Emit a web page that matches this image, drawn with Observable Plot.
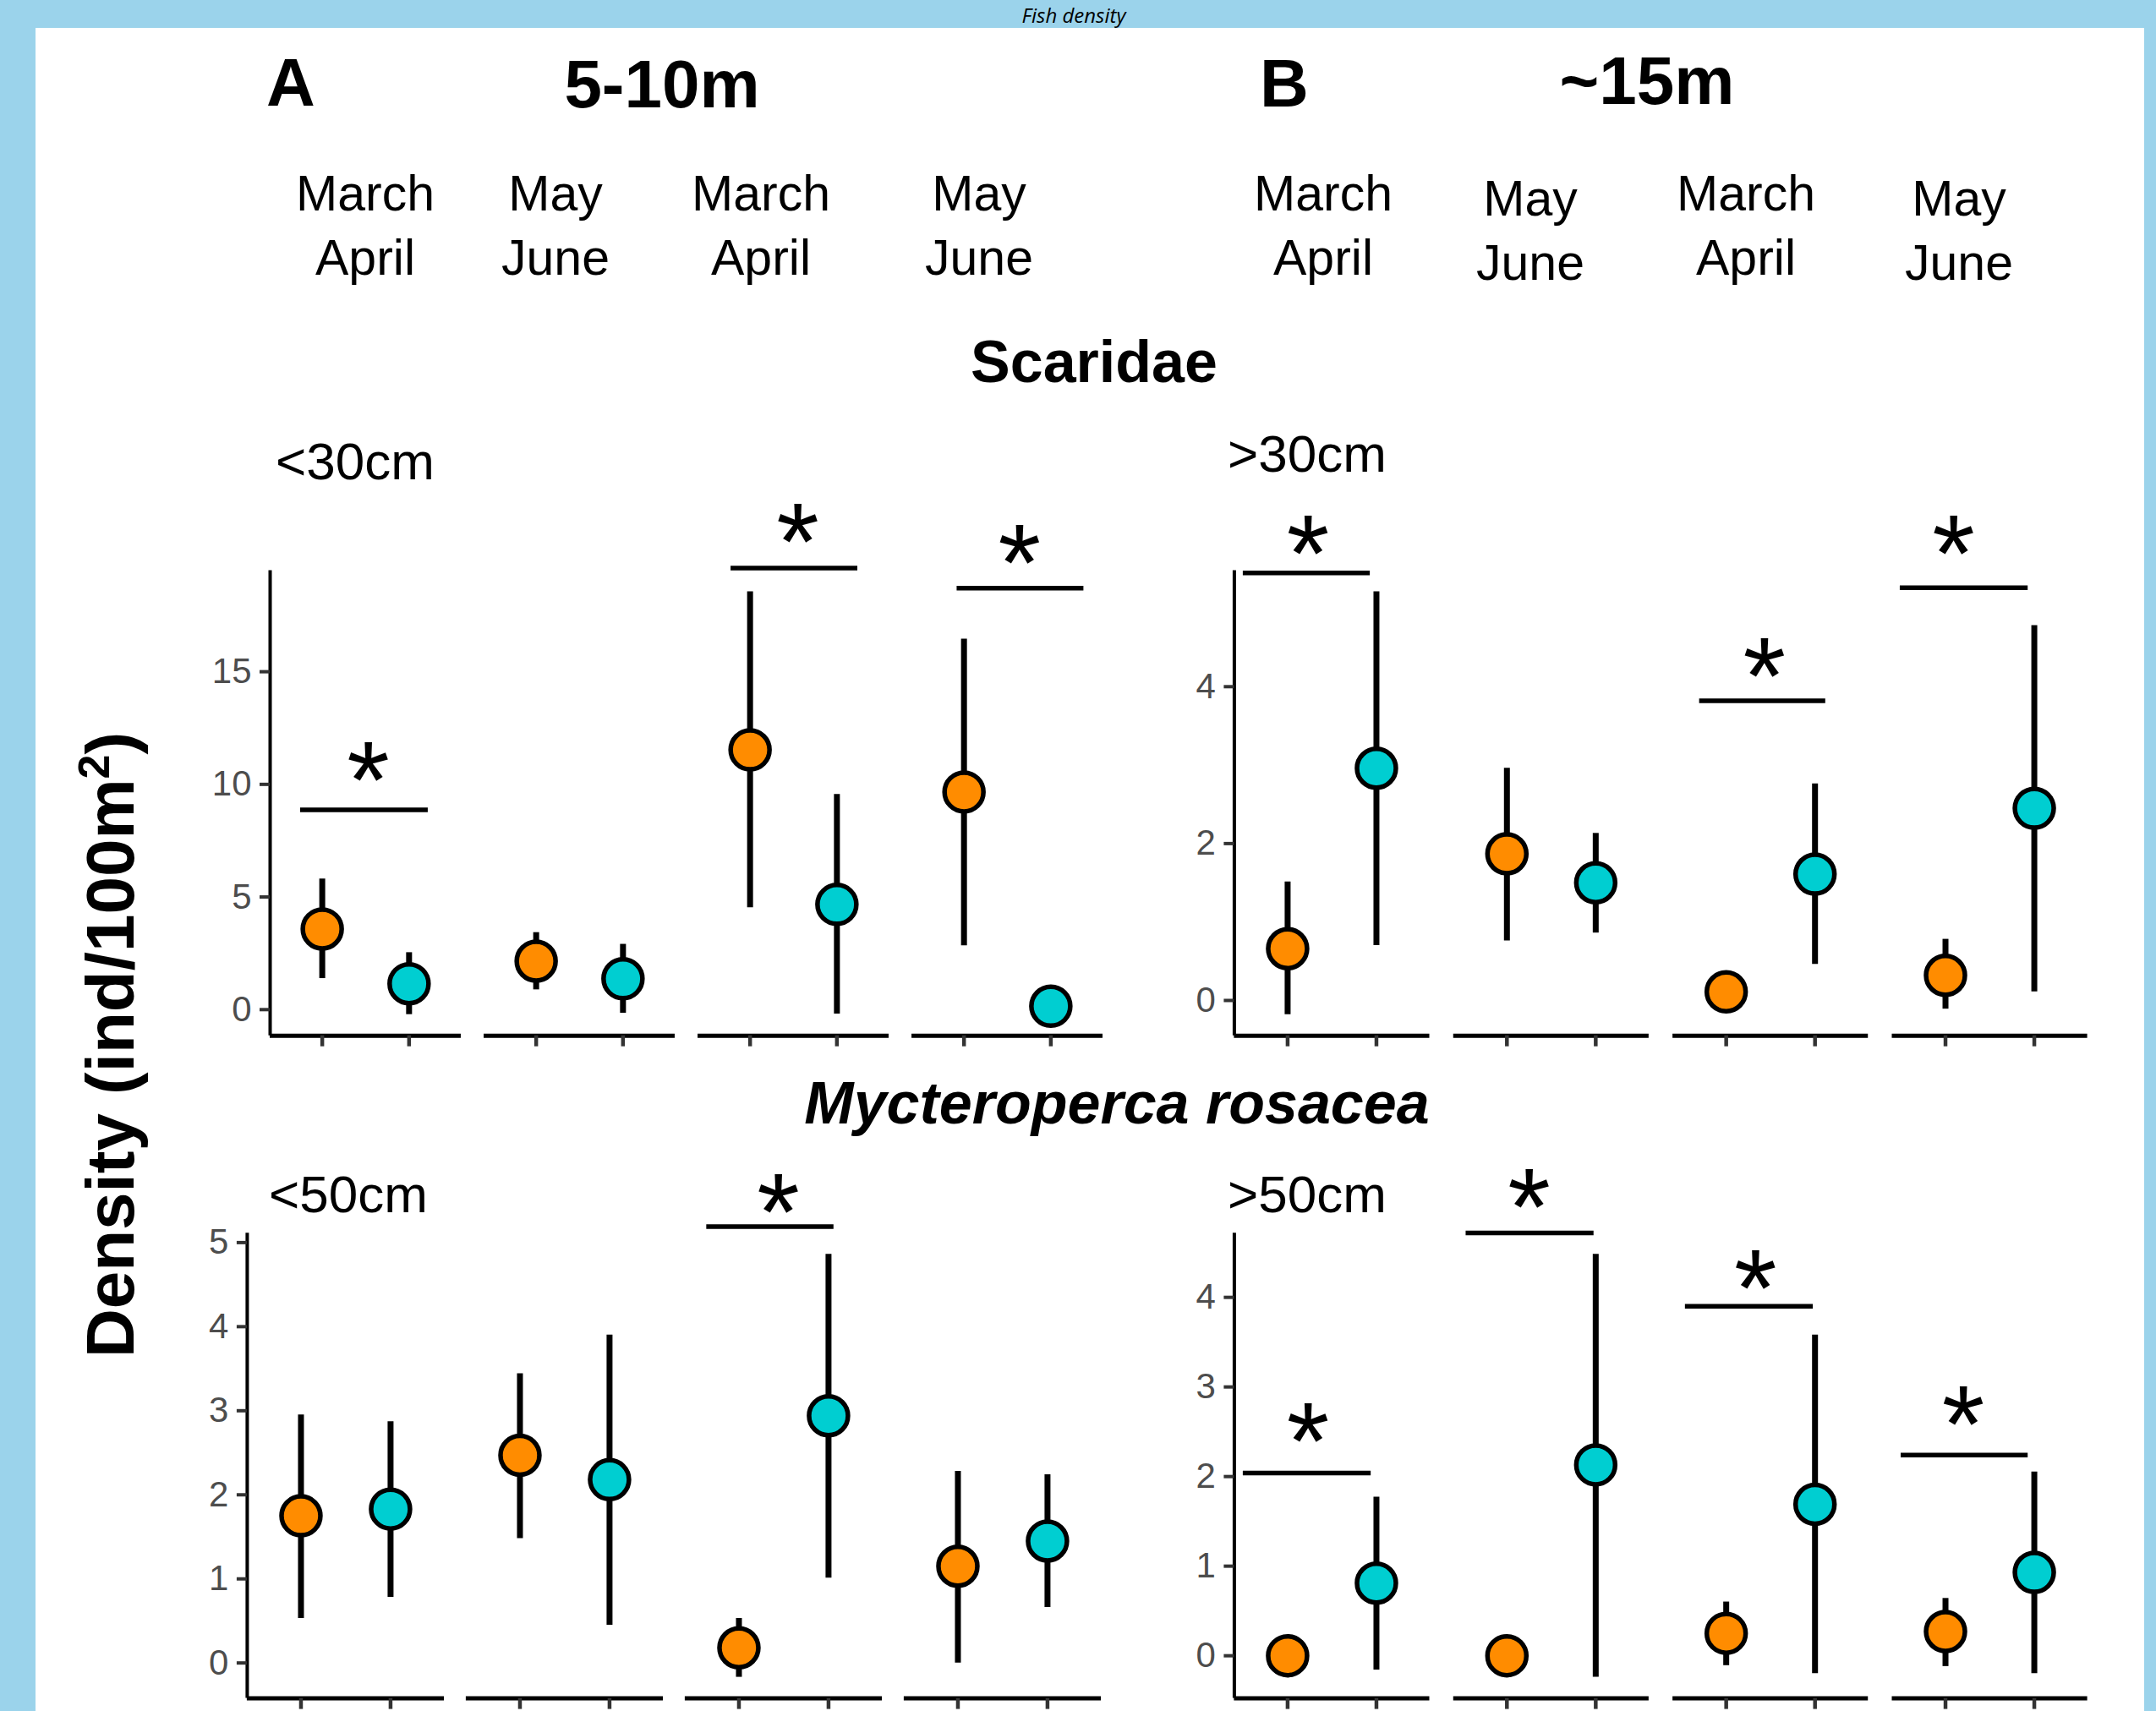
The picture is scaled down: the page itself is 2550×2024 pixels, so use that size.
<!DOCTYPE html>
<html>
<head>
<meta charset="utf-8">
<script src="https://cdn.jsdelivr.net/npm/d3@7"></script>
<script src="https://cdn.jsdelivr.net/npm/@observablehq/plot@0.6"></script>
<style>
  html, body { margin: 0; padding: 0; }
  body { width: 2550px; height: 2024px; background: #9BD3EB; position: relative; overflow: hidden;
         font-family: "Liberation Sans", Arial, sans-serif; }
  #sheet { position: absolute; left: 42px; top: 33px; width: 2494px; height: 1991px; background: #ffffff; }
  .panel { position: absolute; }
  #overlay { position: absolute; left: 0; top: 0; pointer-events: none; }
</style>
</head>
<body>
<div id="sheet"></div>
<div id="panels"></div>
<svg id="overlay" width="2550" height="2024"></svg>
<script>
// ---------------- DATA ----------------
const periods = ["Mar–Apr (1)", "May–Jun (1)", "Mar–Apr (2)", "May–Jun (2)"];
const periodLines = [["March", "April"], ["May", "June"], ["March", "April"], ["May", "June"]];
const groups = ["Group 1", "Group 2"];
const groupColors = ["#FF8C00", "#00CED1"];

// Scaridae <30cm (5-10m)
const scarSmallOrangeMean = [3.58, 2.15, 11.53, 9.66];
const scarSmallOrangeLow  = [1.38, 0.88, 4.52, 2.84];
const scarSmallOrangeHigh = [5.80, 3.42, 18.55, 16.45];
const scarSmallCyanMean   = [1.15, 1.37, 4.67, 0.15];
const scarSmallCyanLow    = [-0.22, -0.16, -0.19, null];
const scarSmallCyanHigh   = [2.53, 2.90, 9.55, null];
const scarSmallSigPeriod  = [0, 2, 3];
const scarSmallSigY       = [8.87, 19.60, 18.71];
const scarSmallSigFrom    = [0.75, 0.78, 0.92];
const scarSmallSigTo      = [2.22, 2.24, 2.38];
const scarSmallStarX      = [1.53, 1.55, 1.64];
const scarSmallStarY      = [10.91, 21.51, 20.56];
const scarSmallTicks      = [0, 5, 10, 15];

// Scaridae >30cm (~15m)
const scarLargeOrangeMean = [0.66, 1.87, 0.11, 0.32];
const scarLargeOrangeLow  = [-0.18, 0.76, null, -0.11];
const scarLargeOrangeHigh = [1.51, 2.96, null, 0.78];
const scarLargeCyanMean   = [2.96, 1.50, 1.61, 2.45];
const scarLargeCyanLow    = [0.70, 0.86, 0.46, 0.11];
const scarLargeCyanHigh   = [5.21, 2.13, 2.76, 4.78];
const scarLargeSigPeriod  = [0, 2, 3];
const scarLargeSigY       = [5.45, 3.82, 5.26];
const scarLargeSigFrom    = [0.50, 0.70, 0.49];
const scarLargeSigTo      = [1.93, 2.12, 1.93];
const scarLargeStarX      = [1.23, 1.43, 1.09];
const scarLargeStarY      = [5.91, 4.34, 5.91];
const scarLargeTicks      = [0, 2, 4];

// Mycteroperca rosacea <50cm (5-10m)
const mycSmallOrangeMean = [1.75, 2.47, 0.18, 1.15];
const mycSmallOrangeLow  = [0.53, 1.48, -0.17, 0.00];
const mycSmallOrangeHigh = [2.95, 3.44, 0.53, 2.28];
const mycSmallCyanMean   = [1.83, 2.18, 2.94, 1.45];
const mycSmallCyanLow    = [0.78, 0.45, 1.01, 0.66];
const mycSmallCyanHigh   = [2.87, 3.90, 4.86, 2.24];
const mycSmallSigPeriod  = [2];
const mycSmallSigY       = [5.19];
const mycSmallSigFrom    = [0.64];
const mycSmallSigTo      = [2.06];
const mycSmallStarX      = [1.44];
const mycSmallStarY      = [5.56];
const mycSmallTicks      = [0, 1, 2, 3, 4, 5];

// Mycteroperca rosacea >50cm (~15m)
const mycLargeOrangeMean = [0.00, 0.00, 0.25, 0.27];
const mycLargeOrangeLow  = [null, null, -0.11, -0.12];
const mycLargeOrangeHigh = [null, null, 0.60, 0.64];
const mycLargeCyanMean   = [0.81, 2.13, 1.69, 0.93];
const mycLargeCyanLow    = [-0.16, -0.24, -0.20, -0.20];
const mycLargeCyanHigh   = [1.77, 4.48, 3.58, 2.05];
const mycLargeSigPeriod  = [0, 1, 2, 3];
const mycLargeSigY       = [2.04, 4.72, 3.90, 2.24];
const mycLargeSigFrom    = [0.50, 0.54, 0.54, 0.50];
const mycLargeSigTo      = [1.94, 1.98, 1.98, 1.93];
const mycLargeStarX      = [1.23, 1.25, 1.33, 1.20];
const mycLargeStarY      = [2.58, 5.19, 4.29, 2.77];
const mycLargeTicks      = [0, 1, 2, 3, 4];

// ---------------- DRAWING ----------------
function drawPanel(d, box) {
  const rows = [];
  periods.forEach((p, i) => {
    rows.push({period: p, group: groups[0], pos: 1, mean: d.oMean[i], lo: d.oLow[i], hi: d.oHigh[i]});
    rows.push({period: p, group: groups[1], pos: 2, mean: d.cMean[i], lo: d.cLow[i], hi: d.cHigh[i]});
  });
  const sig = d.sigPeriod.map((k, j) => ({
    period: periods[k], y: d.sigY[j], x1: d.sigFrom[j], x2: d.sigTo[j], sx: d.starX[j], sy: d.starY[j], label: "*"
  }));
  const vals = rows.flatMap(r => [r.mean, r.lo, r.hi]).filter(v => v != null);
  const [mn, mx] = d3.extent(vals);
  const pad = (mx - mn) * 0.05;
  const yDom = [mn - pad, mx + pad];
  const xDom = [0.4, 2.6];

  const svg = Plot.plot({
    width: box.width, height: box.height,
    marginLeft: box.ml, marginRight: box.mr, marginTop: box.mt, marginBottom: box.mb,
    style: {background: "transparent", overflow: "visible", fontFamily: "Liberation Sans, Arial, sans-serif", fontSize: "42px"},
    fx: {domain: periods, paddingInner: box.gap, paddingOuter: 0, round: false, axis: null, label: null},
    x: {type: "linear", domain: xDom, axis: null},
    y: {domain: yDom, axis: null},
    color: {domain: groups, range: groupColors},
    marks: [
      Plot.ruleY([yDom[0]], {stroke: "black", strokeWidth: 5}),
      Plot.ruleX([{period: periods[0], x: xDom[0]}], {fx: "period", x: "x", stroke: "black", strokeWidth: 4}),
      Plot.axisY({ticks: d.ticks, tickSize: 12, tickPadding: 10, stroke: "#333333", fill: "#4D4D4D",
                  strokeWidth: 4, fontSize: 42, tickFormat: d3.format("d")}),
      Plot.axisX({ticks: [1, 2], tickSize: 13, tickFormat: () => "", stroke: "#333333", strokeWidth: 4.5}),
      Plot.ruleX(rows.filter(r => r.lo != null), {fx: "period", x: "pos", y1: "lo", y2: "hi", stroke: "black", strokeWidth: 7}),
      Plot.dot(rows, {fx: "period", x: "pos", y: "mean", fill: "group", r: 23, stroke: "black", strokeWidth: 5.5}),
      Plot.ruleY(sig, {fx: "period", y: "y", x1: "x1", x2: "x2", stroke: "black", strokeWidth: 5.5}),
      Plot.text(sig, {fx: "period", x: "sx", y: "sy", text: "label", fontSize: 130, dy: 23, fill: "black",
                      fontFamily: "Liberation Sans, Arial, sans-serif"})
    ]
  });
  const wrap = document.createElement("div");
  wrap.className = "panel";
  wrap.style.left = box.left + "px";
  wrap.style.top = box.top + "px";
  wrap.appendChild(svg);
  document.getElementById("panels").appendChild(wrap);
}

drawPanel({oMean: scarSmallOrangeMean, oLow: scarSmallOrangeLow, oHigh: scarSmallOrangeHigh,
           cMean: scarSmallCyanMean, cLow: scarSmallCyanLow, cHigh: scarSmallCyanHigh,
           sigPeriod: scarSmallSigPeriod, sigY: scarSmallSigY, sigFrom: scarSmallSigFrom, sigTo: scarSmallSigTo,
           starX: scarSmallStarX, starY: scarSmallStarY, ticks: scarSmallTicks},
          {left: 170, top: 560, width: 1144, height: 694.7, ml: 149, mr: 10, mt: 114.5, mb: 30, gap: 0.107});

drawPanel({oMean: scarLargeOrangeMean, oLow: scarLargeOrangeLow, oHigh: scarLargeOrangeHigh,
           cMean: scarLargeCyanMean, cLow: scarLargeCyanLow, cHigh: scarLargeCyanHigh,
           sigPeriod: scarLargeSigPeriod, sigY: scarLargeSigY, sigFrom: scarLargeSigFrom, sigTo: scarLargeSigTo,
           starX: scarLargeStarX, starY: scarLargeStarY, ticks: scarLargeTicks},
          {left: 1330, top: 560, width: 1148.6, height: 694.7, ml: 129.4, mr: 10, mt: 114.5, mb: 30, gap: 0.109});

drawPanel({oMean: mycSmallOrangeMean, oLow: mycSmallOrangeLow, oHigh: mycSmallOrangeHigh,
           cMean: mycSmallCyanMean, cLow: mycSmallCyanLow, cHigh: mycSmallCyanHigh,
           sigPeriod: mycSmallSigPeriod, sigY: mycSmallSigY, sigFrom: mycSmallSigFrom, sigTo: mycSmallSigTo,
           starX: mycSmallStarX, starY: mycSmallStarY, ticks: mycSmallTicks},
          {left: 170, top: 1370, width: 1142, height: 668.6, ml: 121.9, mr: 10, mt: 88.3, mb: 30, gap: 0.100});

drawPanel({oMean: mycLargeOrangeMean, oLow: mycLargeOrangeLow, oHigh: mycLargeOrangeHigh,
           cMean: mycLargeCyanMean, cLow: mycLargeCyanLow, cHigh: mycLargeCyanHigh,
           sigPeriod: mycLargeSigPeriod, sigY: mycLargeSigY, sigFrom: mycLargeSigFrom, sigTo: mycLargeSigTo,
           starX: mycLargeStarX, starY: mycLargeStarY, ticks: mycLargeTicks},
          {left: 1330, top: 1370, width: 1148.6, height: 668.6, ml: 129.4, mr: 10, mt: 88.3, mb: 30, gap: 0.109});

// ---------------- TEXT OVERLAY ----------------
const ov = d3.select("#overlay");
const SANS = "Liberation Sans, Arial, sans-serif";
function label(txt, x, y, opts = {}) {
  return ov.append("text").attr("x", x).attr("y", y)
    .attr("text-anchor", opts.anchor || "start")
    .attr("font-family", opts.family || SANS)
    .attr("font-size", opts.size || 60)
    .attr("font-weight", opts.weight || "normal")
    .attr("font-style", opts.style || "normal")
    .attr("fill", "#000")
    .text(txt);
}
label("Fish density", 1270, 27, {anchor: "middle", size: 24, style: "italic", family: "Open Sans, DejaVu Sans, sans-serif"});
label("A", 315, 125, {size: 80, weight: "bold"});
label("5-10m", 783, 127, {size: 80, weight: "bold", anchor: "middle"});
label("B", 1490, 126, {size: 80, weight: "bold"});
label("~15m", 1948, 123, {size: 80, weight: "bold", anchor: "middle"});

const monthXLeft = [432, 657, 900, 1158];
const monthXRight = [1565, 1810, 2065, 2317];
const monthBaseLeft = [249, 249, 249, 249];
const monthBaseRight = [249, 255, 249, 255];
periodLines.forEach((lines, i) => {
  lines.forEach((t, j) => {
    label(t, monthXLeft[i], monthBaseLeft[i] + j * 76, {anchor: "middle", size: 59});
    label(t, monthXRight[i], monthBaseRight[i] + j * 76, {anchor: "middle", size: 59});
  });
});

label("Scaridae", 1294, 452, {anchor: "middle", size: 70, weight: "bold"});
label("Mycteroperca rosacea", 1321, 1329, {anchor: "middle", size: 70, weight: "bold", style: "italic"});
label("<30cm", 326, 567, {size: 62});
label(">30cm", 1452, 558, {size: 62});
label("<50cm", 318, 1434, {size: 62});
label(">50cm", 1452, 1434, {size: 62});

const yt = ov.append("text")
  .attr("transform", "translate(158,1236) rotate(-90)")
  .attr("text-anchor", "middle")
  .attr("font-family", SANS).attr("font-size", 80).attr("font-weight", "bold").attr("fill", "#000");
yt.append("tspan").text("Density (ind/100m");
yt.append("tspan").attr("baseline-shift", "super").attr("font-size", 52).text("2");
yt.append("tspan").text(")");
</script>
</body>
</html>
